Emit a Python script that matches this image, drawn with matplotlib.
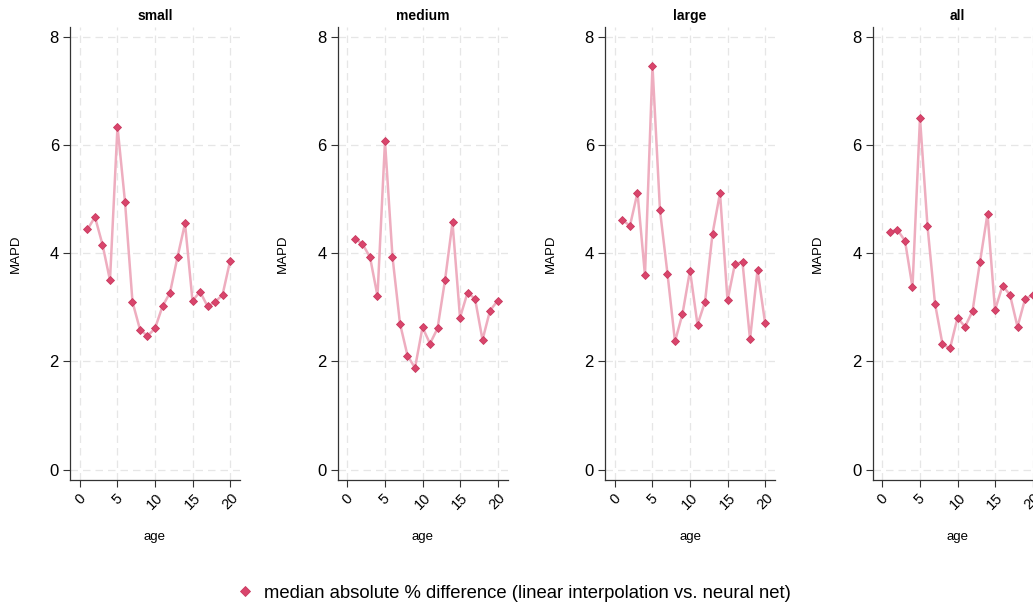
import matplotlib
matplotlib.use("Agg")
import matplotlib.pyplot as plt
from matplotlib.lines import Line2D

plt.rcParams['font.family'] = ['Liberation Sans', 'DejaVu Sans']

ages = list(range(1, 21))
panel_titles = ["small", "medium", "large", "all"]
mapd_small = [4.44, 4.67, 4.16, 3.50, 6.34, 4.95, 3.10, 2.59, 2.47, 2.61,
              3.02, 3.27, 3.93, 4.55, 3.12, 3.29, 3.02, 3.10, 3.23, 3.85]
mapd_medium = [4.27, 4.17, 3.93, 3.21, 6.07, 3.93, 2.70, 2.11, 1.88, 2.63,
               2.33, 2.61, 3.50, 4.57, 2.81, 3.27, 3.16, 2.40, 2.94, 3.12]
mapd_large = [4.61, 4.51, 5.12, 3.59, 7.46, 4.79, 3.62, 2.37, 2.88, 3.68,
              2.68, 3.10, 4.36, 5.11, 3.13, 3.81, 3.83, 2.41, 3.69, 2.72]
mapd_all = [4.40, 4.43, 4.23, 3.37, 6.50, 4.50, 3.07, 2.32, 2.24, 2.81,
            2.64, 2.93, 3.84, 4.73, 2.95, 3.40, 3.23, 2.64, 3.15, 3.23]
series = [mapd_small, mapd_medium, mapd_large, mapd_all]
xticks = [0, 5, 10, 15, 20]
yticks = [0, 2, 4, 6, 8]
legend_label = "median absolute % difference (linear interpolation vs. neural net)"

W, H = 1033, 607
fig = plt.figure(figsize=(W / 100, H / 100), dpi=100)

line_color = "#eeadbf"
marker_color = "#d9456c"
grid_color = "#e6e6e6"

for i, (title, vals) in enumerate(zip(panel_titles, series)):
    left = (70 + i * 267.5) / W
    ax = fig.add_axes([left, 1 - 480 / H, 170 / W, (480 - 27) / H])
    ax.plot(ages, vals, color=line_color, lw=1.8, zorder=2)
    ax.plot(ages, vals, ls='none', marker='D', ms=4.5, mfc=marker_color,
            mec="#c93a60", mew=0.6, zorder=3)
    ax.set_xlim(-1.33, 21.33)
    ax.set_ylim(-0.19, 8.18)
    ax.set_xticks(xticks)
    ax.set_yticks(yticks)
    ax.set_xticklabels([str(t) for t in xticks], rotation=45, fontsize=10.5,
                       ha='center', va='top')
    ax.set_yticklabels([str(t) for t in yticks], fontsize=12)
    ax.grid(True, color=grid_color, ls=(0, (6, 4)), lw=0.9, zorder=0)
    for s in ['top', 'right']:
        ax.spines[s].set_visible(False)
    for s in ['left', 'bottom']:
        ax.spines[s].set_color("#333333")
        ax.spines[s].set_linewidth(0.9)
    ax.tick_params(axis='both', direction='out', length=5, width=0.8,
                   color="#333333", pad=3)
    ax.set_title(title, fontsize=10, fontweight='bold', pad=5)
    ax.set_xlabel("age", fontsize=9.5, labelpad=13)
    ax.set_ylabel("MAPD", fontsize=9.5, labelpad=20)

handle = Line2D([], [], ls='none', marker='D', ms=5, mfc=marker_color,
                mec="#c93a60", mew=0.6)
fig.legend([handle], [legend_label], loc='center', bbox_to_anchor=(0.497, 1 - 593 / H),
           frameon=False, fontsize=13.3, handletextpad=0.5, handlelength=1.0)

fig.savefig("out.png", dpi=100)
